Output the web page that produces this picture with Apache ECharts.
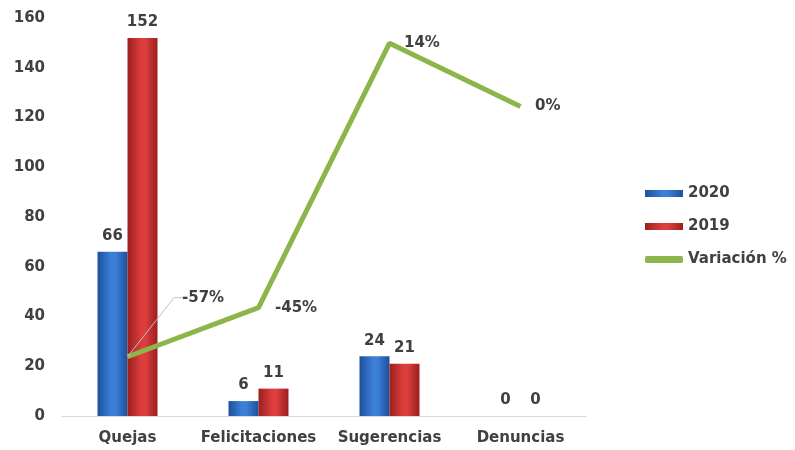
<!DOCTYPE html>
<html>
<head>
<meta charset="utf-8">
<script src="https://cdn.jsdelivr.net/npm/echarts@6/dist/echarts.min.js"></script>
<style>
  html, body { margin: 0; padding: 0; background: #fff; }
  #chart { width: 795px; height: 450px; }
</style>
</head>
<body>
<div id="chart"></div>
<script>
// Categories and values
const categories = ['Quejas', 'Felicitaciones', 'Sugerencias', 'Denuncias'];
const values2020 = [66, 6, 24, 0];
const values2019 = [152, 11, 21, 0];
// Year-on-year change, in percent
const variation = [-56.6, -45.5, 14.3, 0];
const yTicks = [0, 20, 40, 60, 80, 100, 120, 140, 160];

const FONT = '"DejaVu Sans", Verdana, sans-serif';
const TEXT = '#404040';
const GREEN = '#8db64a';

function barGradient(edge, mid) {
  return new echarts.graphic.LinearGradient(0, 0, 1, 0, [
    { offset: 0, color: edge },
    { offset: 0.45, color: mid },
    { offset: 0.6, color: mid },
    { offset: 1, color: edge }
  ]);
}

const chart = echarts.init(document.getElementById('chart'));
chart.setOption({
  animation: false,
  textStyle: { fontFamily: FONT },
  grid: { left: 62, right: 209, top: 18, bottom: 34, containLabel: false },
  legend: {
    orient: 'vertical',
    left: 640,
    top: 181,
    itemGap: 18,
    itemWidth: 38,
    itemHeight: 7,
    textStyle: { fontFamily: FONT, fontWeight: 'bold', fontSize: 15, color: TEXT },
    data: [
      { name: '2020', icon: 'rect' },
      { name: '2019', icon: 'rect' },
      { name: 'Variación %', icon: 'roundRect', itemStyle: { color: GREEN } }
    ]
  },
  xAxis: {
    type: 'category',
    data: categories,
    axisLine: { lineStyle: { color: '#d9d9d9', width: 1 } },
    axisTick: { show: false },
    axisLabel: { interval: 0, fontFamily: FONT, fontWeight: 'bold', fontSize: 15, color: TEXT, margin: 15 }
  },
  yAxis: [
    {
      type: 'value',
      min: yTicks[0],
      max: yTicks[yTicks.length - 1],
      interval: 20,
      axisLine: { show: false },
      axisTick: { show: false },
      splitLine: { show: false },
      axisLabel: { fontFamily: FONT, fontWeight: 'bold', fontSize: 15, color: TEXT, margin: 17 }
    },
    {
      type: 'value',
      min: -70,
      max: 20,
      interval: 10,
      show: false,
      splitLine: { show: false }
    }
  ],
  series: [
    {
      name: '2020',
      type: 'bar',
      data: values2020,
      barWidth: 30,
      barGap: '0%',
      itemStyle: { color: barGradient('#1d4f9c', '#3c7fd6') },
      label: {
        show: true,
        position: 'top',
        distance: 8,
        fontFamily: FONT, fontWeight: 'bold', fontSize: 15, color: TEXT
      }
    },
    {
      name: '2019',
      type: 'bar',
      data: values2019,
      barWidth: 30,
      itemStyle: { color: barGradient('#9c1f1f', '#dc3d3d') },
      label: {
        show: true,
        position: 'top',
        distance: 8,
        fontFamily: FONT, fontWeight: 'bold', fontSize: 15, color: TEXT
      }
    },
    {
      name: 'Variación %',
      type: 'line',
      yAxisIndex: 1,
      data: variation.map((v, i) => i === 0
        ? { value: v, labelLine: { show: true, length2: 8, lineStyle: { color: '#bfbfbf', width: 1 } } }
        : v),
      symbol: 'circle',
      symbolSize: 1,
      showSymbol: true,
      lineStyle: { color: GREEN, width: 5 },
      itemStyle: { color: 'rgba(0,0,0,0)' },
      z: 5,
      label: {
        show: true,
        position: 'right',
        distance: 14,
        fontFamily: FONT, fontWeight: 'bold', fontSize: 15, color: TEXT,
        formatter: p => Math.round(p.value) + '%'
      },
      labelLayout: function (params) {
        if (params.dataIndex === 0) return { dx: 40, dy: -59 };
        if (params.dataIndex === 1) return { dx: 2, dy: 0 };
        return {};
      }
    }
  ]
});
</script>
</body>
</html>
